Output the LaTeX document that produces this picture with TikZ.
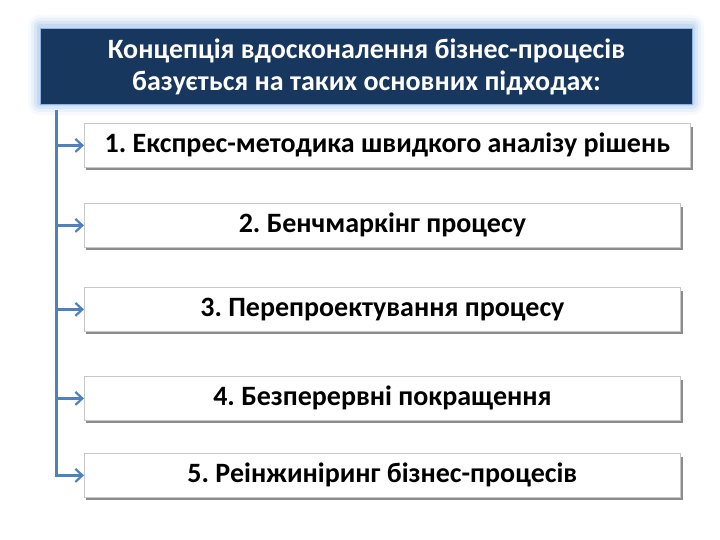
\documentclass[tikz,border=0pt]{standalone}
\usepackage{fontspec}
\setmainfont{Carlito}
\usetikzlibrary{arrows.meta}
\frenchspacing
\definecolor{navy}{HTML}{17375E}
\definecolor{glow}{HTML}{8DB4E2}
\definecolor{linkc}{HTML}{4F81BD}
\tikzset{
  item/.style={draw=black!22, fill=white, line width=0.8pt, minimum height=44pt, inner sep=0pt, font=\bfseries\fontsize{28}{32}\selectfont, text=black},
  link/.style={draw=linkc, line width=3pt, -{Straight Barb[length=7pt,width=13pt,line width=2.2pt]}},
}
\begin{document}
\begin{tikzpicture}[x=1pt,y=-1pt]
\useasboundingbox (0,0) rectangle (720,540);
% glow of header
\foreach \d/\o in {12/0.08,9/0.12,6/0.18,3/0.25}{
  \fill[glow, opacity=\o, rounded corners=\d pt] (40-\d,27-\d) rectangle (692+\d,103+\d);
}
\node[fill=navy, draw=glow, line width=1pt, minimum width=652pt, minimum height=76pt, inner sep=0pt, anchor=north west, align=center, text=white, font=\bfseries\fontsize{28}{32}\selectfont] (head) at (40,28)
  {Концепція вдосконалення бізнес-процесів\\базується на таких основних підходах:};
% boxes: shadows then boxes
\foreach \n/\xr/\yt in {b1/690/123, b2/680/203, b3/680/287, b4/680/376, b5/680/453}{
  \fill[black!45] (86,\yt+4) rectangle (\xr+3,\yt+47);
  \fill[black!20] (84,\yt+2) rectangle (88,\yt+44);
}
\node[item, minimum width=606pt, anchor=north west] (b1) at (84,123) {1. Експрес-методика швидкого аналізу рішень};
\node[item, minimum width=596pt, anchor=north west] (b2) at (84,203) {2. Бенчмаркінг процесу};
\node[item, minimum width=596pt, anchor=north west] (b3) at (84,287) {3. Перепроектування процесу};
\node[item, minimum width=596pt, anchor=north west] (b4) at (84,376) {4. Безперервні покращення};
\node[item, minimum width=596pt, anchor=north west] (b5) at (84,453) {5. Реінжиніринг бізнес-процесів};
\coordinate (top) at (56,110);
\draw[draw=linkc, line width=3pt] (top) -- (56,476.5);
\foreach \n in {b1,b2,b3,b4,b5}{
  \draw[link] (54.5,0 |- \n.west) -- (\n.west);
}
\end{tikzpicture}
\end{document}
